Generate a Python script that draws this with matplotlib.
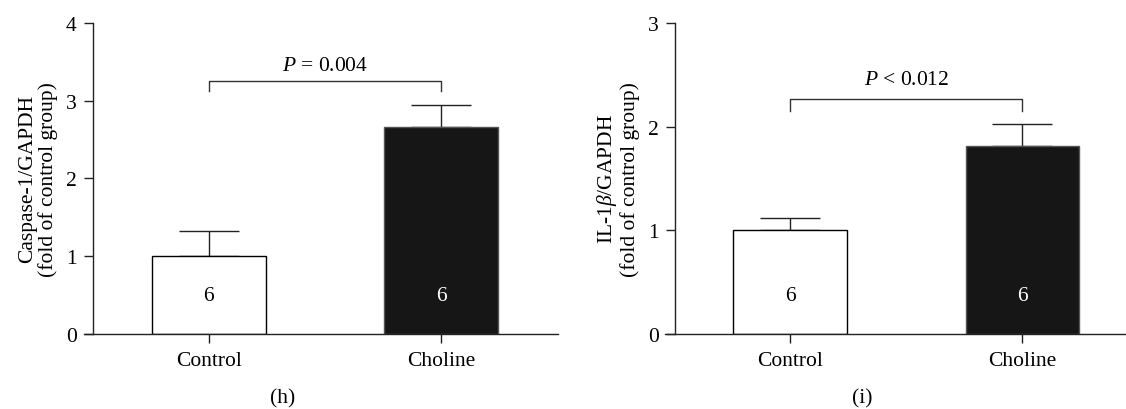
import matplotlib
matplotlib.use('Agg')
import matplotlib.pyplot as plt

plt.rcParams['font.family'] = ['Liberation Serif', 'DejaVu Serif']
plt.rcParams['mathtext.fontset'] = 'custom'
plt.rcParams['mathtext.rm'] = 'Liberation Serif'
plt.rcParams['mathtext.it'] = 'Liberation Serif:italic'

FS = 15.5

# data
groups = ['Control', 'Choline']
n_per_group = ['6', '6']

casp_mean = [1.00, 2.66]
casp_err = [0.32, 0.29]
casp_ylabel = 'Caspase-1/GAPDH\n(fold of control group)'
casp_p = '$P$ = 0.004'
casp_yticks = [0, 1, 2, 3, 4]

il_mean = [1.00, 1.81]
il_err = [0.115, 0.22]
il_ylabel = 'IL-1$\\beta$/GAPDH\n(fold of control group)'
il_p = '$P$ < 0.012'
il_yticks = [0, 1, 2, 3]

fig = plt.figure(figsize=(11.26, 4.10), dpi=100)


def panel(rect, means, errs, ylabel, ptext, yticks, bracket, ptext_y, n_y, xlim):
    ax = fig.add_axes(rect)
    x = range(len(groups))
    colors = ['white', '#161616']
    edges = ['black', '#555555']
    ax.bar(x, means, width=0.49, color=colors, edgecolor=edges, linewidth=1.0, zorder=2)
    ax.errorbar(x, means, yerr=[[0] * len(errs), errs], fmt='none', ecolor='#222222',
                elinewidth=1.0, capsize=21.5, capthick=1.0, zorder=1)
    for i, lab in enumerate(n_per_group):
        ax.text(i, n_y, lab, ha='center', va='center', fontsize=FS,
                color='black' if i == 0 else 'white', zorder=3)

    # significance bracket
    lo, hi = bracket
    ax.plot([0, 0, 1, 1], [lo, hi, hi, lo], color='#333333', lw=1.0, clip_on=False)
    ax.text(0.5, ptext_y, ptext, ha='center', va='center', fontsize=FS)

    ax.set_xlim(*xlim)
    ax.set_ylim(0, yticks[-1])
    ax.spines['top'].set_visible(False)
    ax.spines['right'].set_visible(False)
    ax.spines['left'].set_position(('data', -0.497))
    for s in ('left', 'bottom'):
        ax.spines[s].set_linewidth(1.0)
        ax.spines[s].set_color('#222222')
    ax.set_xticks(list(x))
    ax.set_xticklabels(groups)
    ax.set_yticks(yticks)
    ax.tick_params(axis='both', labelsize=FS, width=1.0, length=6.5, color='#222222')
    ax.tick_params(axis='y', pad=5)
    ax.tick_params(axis='x', pad=6)
    ax.set_ylabel(ylabel, fontsize=FS, linespacing=1.05, labelpad=6)
    return ax


ax1 = panel([0.0746, 0.183, 0.421, 0.7585], casp_mean, casp_err, casp_ylabel, casp_p,
            casp_yticks, (3.12, 3.25), 3.45, 0.49, (-0.535, 1.501))
ax2 = panel([0.5906, 0.184, 0.4094, 0.757], il_mean, il_err, il_ylabel, il_p,
            il_yticks, (2.15, 2.27), 2.46, 0.37, (-0.54, 1.446))

fig.text(283 / 1126, 1 - 399 / 410, '(h)', ha='center', va='center', fontsize=FS)
fig.text(862 / 1126, 1 - 399 / 410, '(i)', ha='center', va='center', fontsize=FS)

fig.savefig('out.png', dpi=100)
